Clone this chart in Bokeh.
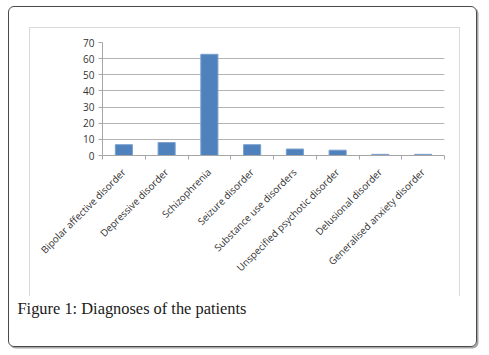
import math
from bokeh.plotting import figure
from bokeh.models import FixedTicker, ColumnDataSource, Title, InlineStyleSheet
from bokeh.embed import file_html
from bokeh.resources import INLINE

categories = ["Bipolar affective disorder", "Depressive disorder", "Schizophrenia",
              "Seizure disorder", "Substance use disorders", "Unspecified psychotic disorder",
              "Delusional disorder", "Generalised anxiety disorder"]
values = [6.7, 8.0, 62.7, 6.7, 4.0, 3.3, 0.7, 0.7]
y_ticks = [0, 10, 20, 30, 40, 50, 60, 70]
caption = "Figure 1: Diagnoses of the patients"

n = len(categories)
centers = [i + 0.5 for i in range(n)]
src = ColumnDataSource(dict(x=centers, top=values))

frame_css = InlineStyleSheet(css="""
:host { position: relative; }
:host::after {
  content: ""; position: absolute; z-index: 20; pointer-events: none;
  left: 8px; top: 6px; width: 469px; height: 341px; box-sizing: border-box;
  border: 1px solid #4a4a4a; border-radius: 6px;
  box-shadow: 1.5px 1.5px 0 #a6a6a6;
}
:host::before {
  content: ""; position: absolute; z-index: 20; pointer-events: none;
  left: 29px; top: 27px; width: 431px; height: 269px; box-sizing: border-box;
  border: 1px solid #d9d9d9; border-bottom: none;
}
""")

p = figure(width=489, height=355, x_range=(0, n), y_range=(0, 70),
           output_backend="svg", toolbar_location=None,
           min_border_left=102, min_border_right=45, min_border_top=42, min_border_bottom=200,
           stylesheets=[frame_css])
p.background_fill_color = "white"
p.border_fill_color = "white"
p.outline_line_color = None

p.vbar(x="x", top="top", width=0.4, source=src, fill_color="#4f81bd", line_color="#7ba0cf", line_width=1)

# axes
p.xgrid.visible = False
p.ygrid.grid_line_color = "#b3b3b3"
p.ygrid.ticker = FixedTicker(ticks=y_ticks)

p.yaxis.ticker = FixedTicker(ticks=y_ticks)
p.yaxis.axis_line_color = "#a6a6a6"
p.yaxis.major_tick_line_color = "#a6a6a6"
p.yaxis.major_tick_out = 4
p.yaxis.major_tick_in = 0
p.yaxis.minor_tick_line_color = None
p.yaxis.major_label_text_font = "Open Sans"
p.yaxis.major_label_text_font_size = "10px"
p.yaxis.major_label_text_color = "#333333"
p.yaxis.major_label_standoff = 4

p.xaxis.ticker = FixedTicker(ticks=centers, minor_ticks=list(range(n + 1)))
p.xaxis.major_label_overrides = {c: lab for c, lab in zip(centers, categories)}
p.xaxis.axis_line_color = "#a6a6a6"
p.xaxis.major_tick_line_color = None
p.xaxis.major_tick_out = 0
p.xaxis.major_tick_in = 0
p.xaxis.minor_tick_line_color = "#a6a6a6"
p.xaxis.minor_tick_out = 4
p.xaxis.minor_tick_in = 0
p.xaxis.major_label_orientation = math.pi / 4
p.xaxis.major_label_text_font = "Open Sans"
p.xaxis.major_label_text_font_size = "9.8px"
p.xaxis.major_label_text_color = "#333333"
p.xaxis.major_label_standoff = 11

p.add_layout(Title(text=caption, align="left", offset=-85, standoff=31,
                   text_font="Liberation Serif", text_font_size="16.4px",
                   text_font_style="normal", text_color="#1a1a1a"), "below")

open("out.html", "w").write(file_html(p, INLINE))
